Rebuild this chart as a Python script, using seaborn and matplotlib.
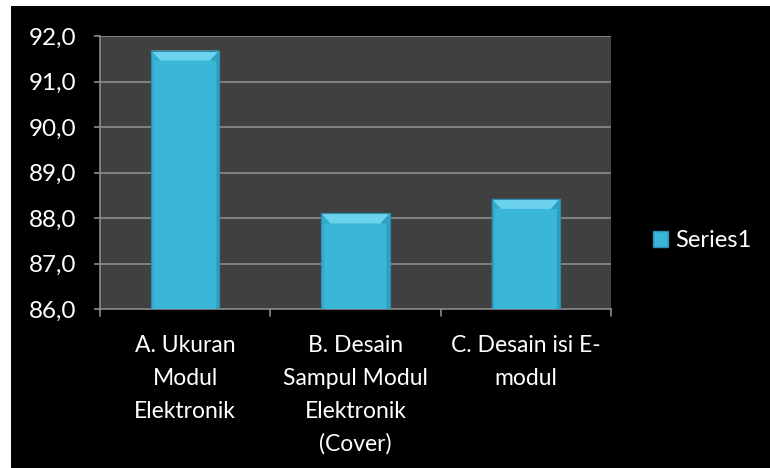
import matplotlib
matplotlib.use("Agg")
import matplotlib.pyplot as plt
from matplotlib.patches import Rectangle, Polygon
import seaborn as sns
import pandas as pd

categories = [
    "A. Ukuran\nModul\nElektronik",
    "B. Desain\nSampul Modul\nElektronik\n(Cover)",
    "C. Desain isi E-\nmodul",
]
values = [91.68, 88.10, 88.42]
series_name = "Series1"
y_ticks = [86.0, 87.0, 88.0, 89.0, 90.0, 91.0, 92.0]
y_tick_labels = [f"{v:.1f}".replace(".", ",") for v in y_ticks]

sns.set_theme(style="dark")
plt.rcParams["font.family"] = ["Lato", "DejaVu Sans"]

XFONT = 16.5
YFONT = 17.5
LFONT = 17
BAR = "#3ab6d9"
EDGE = "#2a8db0"
GRID = "#8c8c8c"

df = pd.DataFrame({"kategori": categories, "nilai": values})

fig = plt.figure(figsize=(7.7, 4.68), dpi=100, facecolor="black")
ax = fig.add_axes([0.1299, 1 - 309 / 468, (611 - 100) / 770, (309 - 36) / 468])
ax.set_facecolor("#404040")

sns.barplot(data=df, x="kategori", y="nilai", color=BAR, width=0.4,
            saturation=1, ax=ax, zorder=3, edgecolor=EDGE, linewidth=0.8)

ax.set_ylim(86, 92)
ax.set_xlim(-0.5, 2.5)
ax.set_yticks(y_ticks)
ax.set_yticklabels(y_tick_labels, color="white", fontsize=YFONT)
ax.set_xticks([0, 1, 2])
ax.set_xticklabels(categories, color="white", fontsize=XFONT, linespacing=1.68,
                   va="top")
ax.set_xlabel("")
ax.set_ylabel("")

# horizontal gridlines
ax.grid(False)
for v in y_ticks[1:]:
    ax.axhline(v, color=GRID, linewidth=1.2, zorder=1)

for s in ["top", "right"]:
    ax.spines[s].set_visible(False)
for s in ["left", "bottom"]:
    ax.spines[s].set_visible(True)
    ax.spines[s].set_color(GRID)
    ax.spines[s].set_linewidth(1.2)

ax.tick_params(axis="y", left=True, length=4, color=GRID, width=1.2, pad=13)
ax.tick_params(axis="x", bottom=False, pad=13)
# category boundary ticks on the x axis
for b in [-0.5, 0.5, 1.5, 2.5]:
    ax.plot([b, b], [0, -0.025], transform=ax.get_xaxis_transform(),
            color=GRID, linewidth=1.2, clip_on=False, zorder=4)

# bevel shading on each bar, built from the bar geometry
fig.canvas.draw()
to_data = ax.transData.inverted()
for p in list(ax.patches):
    x0, y0 = p.get_x(), p.get_y()
    w, h = p.get_width(), p.get_height()
    x1, top = x0 + w, y0 + h
    (px_l, px_b) = ax.transData.transform((x0, y0))
    (px_r, px_t) = ax.transData.transform((x1, top))
    # bevel depths in pixels: top face, sides, bottom
    t_in = to_data.transform((px_l + 9, px_t - 10))
    s_in = to_data.transform((px_l + 3, px_b + 3))
    xr_in = to_data.transform((px_r - 3, px_b))[0]
    xr_top = to_data.transform((px_r - 9, px_t))[0]
    ax.add_patch(Polygon([(x0, top), (x1, top), (xr_top, t_in[1]), (t_in[0], t_in[1])],
                         closed=True, facecolor="#6dd2ee", edgecolor="none", zorder=4))
    ax.add_patch(Polygon([(x0, top), (t_in[0], t_in[1]), (s_in[0], t_in[1]),
                          (s_in[0], s_in[1]), (x0, y0)],
                         closed=True, facecolor="#35abcd", edgecolor="none", zorder=4))
    ax.add_patch(Polygon([(x1, top), (xr_top, t_in[1]), (xr_in, t_in[1]),
                          (xr_in, s_in[1]), (x1, y0)],
                         closed=True, facecolor="#2f9fc0", edgecolor="none", zorder=4))
    ax.add_patch(Polygon([(x0, y0), (s_in[0], s_in[1]), (xr_in, s_in[1]), (x1, y0)],
                         closed=True, facecolor="#2b92b2", edgecolor="none", zorder=4))
    ax.add_patch(Rectangle((x0, y0), w, h, fill=False, edgecolor=EDGE,
                           linewidth=0.8, zorder=5))

# legend
handle = Rectangle((0, 0), 1, 1, facecolor=BAR, edgecolor=EDGE)
fig.legend([handle], [series_name], loc="center left",
           bbox_to_anchor=(0.848, 0.486), frameon=False,
           fontsize=LFONT, labelcolor="white", handlelength=0.65,
           handleheight=0.65, handletextpad=0.3, borderpad=0,
           borderaxespad=0)

# white margin strips along the top and left edges
fig.patches.append(Rectangle((0, 1 - 6 / 468), 1, 6 / 468, transform=fig.transFigure,
                             facecolor="white", edgecolor="none", zorder=10))
fig.patches.append(Rectangle((0, 0), 11 / 770, 1, transform=fig.transFigure,
                             facecolor="white", edgecolor="none", zorder=10))

fig.savefig("out.png", dpi=100, facecolor="black")
